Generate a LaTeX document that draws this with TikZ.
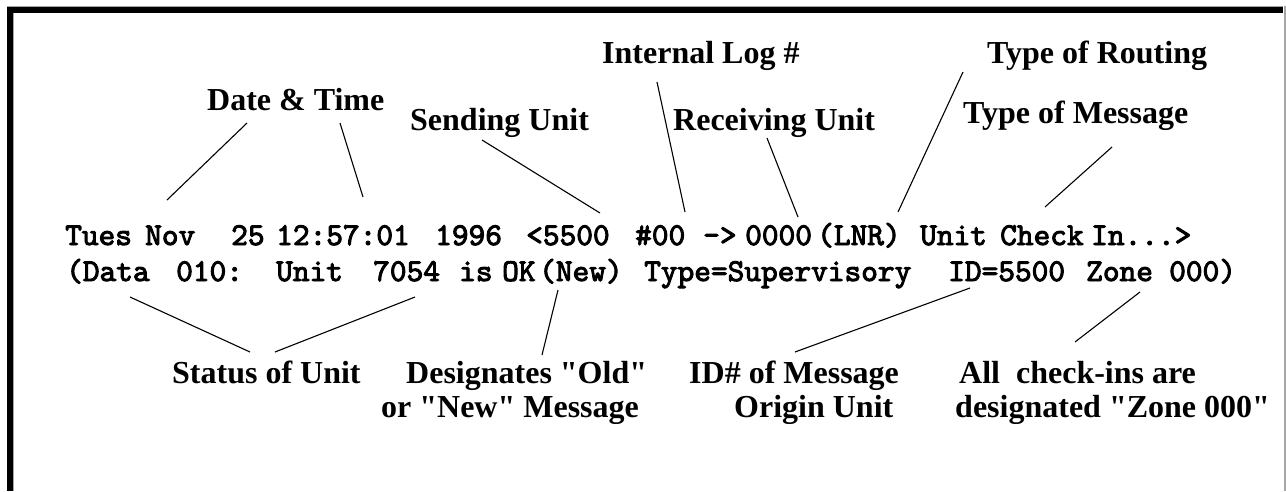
\documentclass[tikz,border=0pt]{standalone}
\usepackage{fontspec}
\setmainfont{Liberation Serif}[Ligatures=TeXOff]
\newfontfamily\courfam{lmmono10-regular.otf}[FakeBold=3, Ligatures=TeXOff]
\newcommand{\lblfont}{\fontsize{32}{36}\selectfont\bfseries}
\newcommand{\mfont}{\courfam\fontsize{31.8}{34}\selectfont}
\begin{document}
\begin{tikzpicture}[x=1pt,y=-1pt,
  lbl/.style={font=\lblfont, inner sep=0pt, anchor=base west},
  mono/.style={font=\mfont, inner sep=0pt, anchor=base west},
  ptr/.style={line width=1.1pt, black}]
\useasboundingbox (0,0) rectangle (1286,491);
\fill[white] (0,0) rectangle (1286,491);
% frame
\draw[gray!70, line width=0.8pt] (7,6.3) -- (1283,6.3);
\fill[black] (7,7) rectangle (1283,12.5);
\fill[black] (7,7) rectangle (12.5,491);
\draw[gray!70, line width=0.8pt] (12.9,12.5) -- (12.9,491);
\draw[gray!70, line width=1.3pt] (1285,6) -- (1285,491);
% top labels
\node[lbl] (ldt) at (207,110) {Date \& Time};
\node[lbl] (lsu) at (410,130) {Sending Unit};
\node[lbl] (lil) at (602,63) {Internal Log \#};
\node[lbl] (lru) at (673,130) {Receiving Unit};
\node[lbl] (ltr) at (987,63) {Type of Routing};
\node[lbl] (ltm) at (963,123) {Type of Message};
% bottom labels
\node[lbl] (lst) at (172,383) {Status of Unit};
\node[lbl] (ld1) at (406,383) {Designates "Old"};
\node[lbl] (ld2) at (381,417) {or "New" Message};
\node[lbl] (li1) at (689,383) {ID\# of Message};
\node[lbl] (li2) at (734,417) {Origin Unit};
\node[lbl] (la1) at (959,383) {All\ \ check-ins are};
\node[lbl] (la2) at (955,417) {designated "Zone 000"};
% message line 1
\node[mono] (w1) at (65,245) {Tues};
\node[mono] (w2) at (145,245) {Nov};
\node[mono] (w3) at (231,245) {25};
\node[mono] (w4) at (276,245) {12:57:01};
\node[mono] (w5) at (435,245) {1996};
\node[mono] (w6) at (526,245) {<5500};
\node[mono] (w7) at (635,245) {\#00};
\node[mono] (w8) at (703,245) {->};
\node[mono] (w9) at (745,245) {0000};
\node[mono] (w10) at (817,245) {(LNR)};
\node[mono] (w11) at (920,245) {Unit};
\node[mono] (w12) at (1000,245) {Check};
\node[mono] (w13) at (1091,245) {In...>};
% message line 2
\node[mono] (v1) at (66,281) {(Data};
\node[mono] (v2) at (176,281) {010:};
\node[mono] (v3) at (276,281) {Unit};
\node[mono] (v4) at (373,281) {7054};
\node[mono] (v5) at (459,281) {is};
\node[mono] (v6) at (502,281) {OK};
\node[mono] (v7) at (539,281) {(New)};
\node[mono] (v8) at (644,281) {Type=Supervisory};
\node[mono] (v9) at (948,281) {ID=5500};
\node[mono] (v10) at (1086,281) {Zone};
\node[mono] (v11) at (1169,281) {000)};
% pointer end points
\coordinate (a1) at (247,123); \coordinate (a2) at (167,200);
\coordinate (b1) at (340,123); \coordinate (b2) at (363,197);
\coordinate (c1) at (482,140); \coordinate (c2) at (600,213);
\coordinate (d1) at (657,82);  \coordinate (d2) at (685,212);
\coordinate (e1) at (767,138); \coordinate (e2) at (798,217);
\coordinate (f1) at (963,72);  \coordinate (f2) at (898,212);
\coordinate (g1) at (1112,147); \coordinate (g2) at (1045,207);
\coordinate (h1) at (130,297); \coordinate (h2) at (250,352);
\coordinate (i1) at (415,297); \coordinate (i2) at (275,352);
\coordinate (j1) at (558,290); \coordinate (j2) at (542,355);
\coordinate (k1) at (970,288); \coordinate (k2) at (795,352);
\coordinate (m1) at (1140,292); \coordinate (m2) at (1075,342);
\draw[ptr] (a1) -- (a2);
\draw[ptr] (b1) -- (b2);
\draw[ptr] (c1) -- (c2);
\draw[ptr] (d1) -- (d2);
\draw[ptr] (e1) -- (e2);
\draw[ptr] (f1) -- (f2);
\draw[ptr] (g1) -- (g2);
\draw[ptr] (h1) -- (h2);
\draw[ptr] (i1) -- (i2);
\draw[ptr] (j1) -- (j2);
\draw[ptr] (k1) -- (k2);
\draw[ptr] (m1) -- (m2);
\end{tikzpicture}
\end{document}
